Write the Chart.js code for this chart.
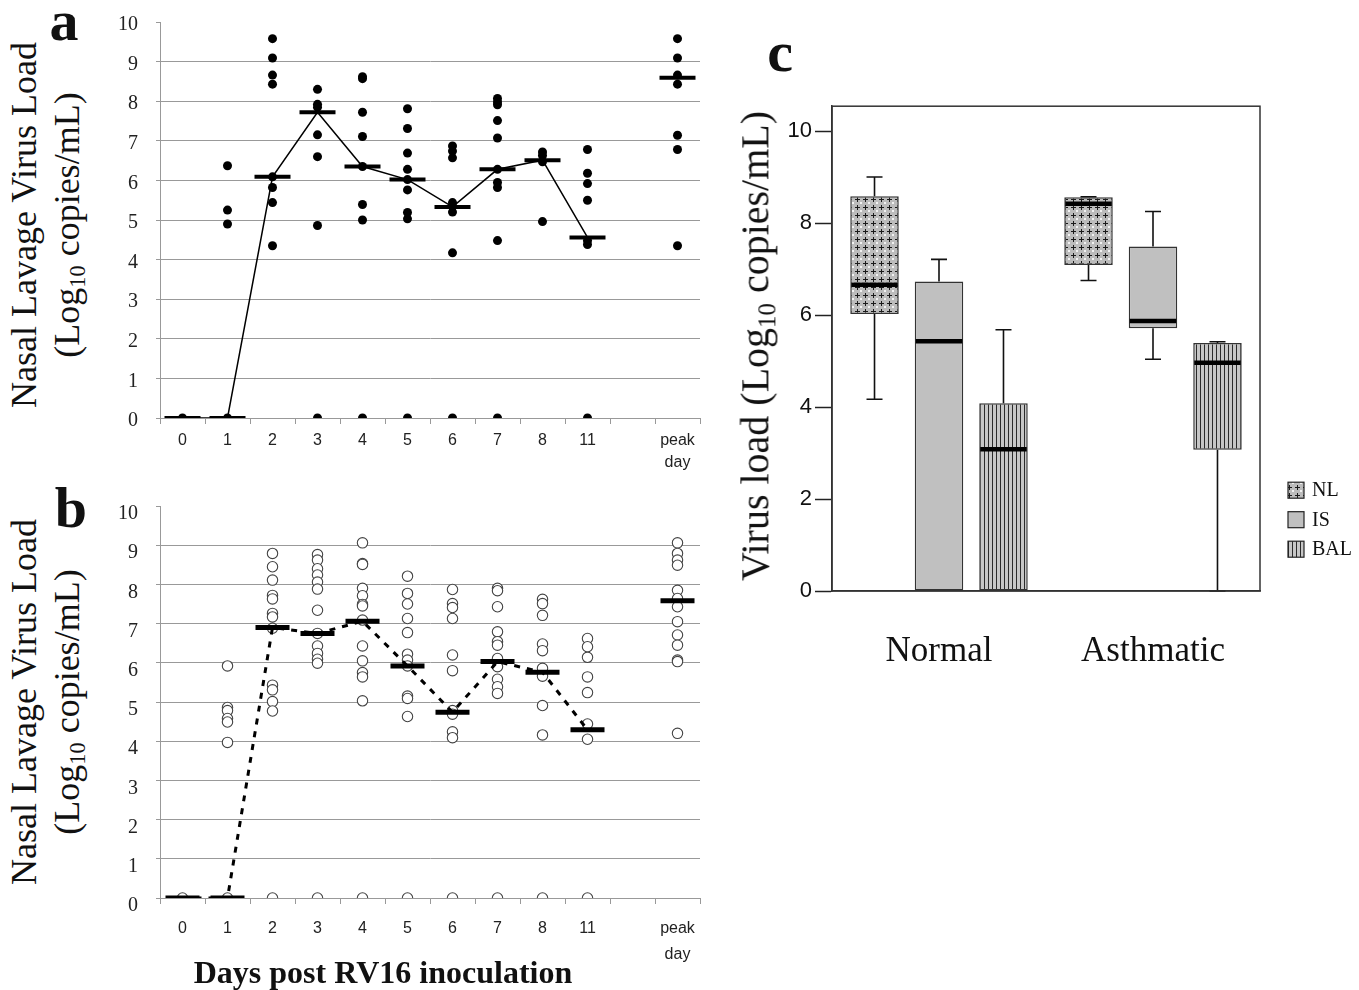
<!DOCTYPE html>
<html>
<head>
<meta charset="utf-8">
<script src="https://cdn.jsdelivr.net/npm/chart.js@4.4.1/dist/chart.umd.min.js"></script>
<style>
  body { margin: 0; width: 1359px; height: 990px; background: #fff; position: relative; overflow: hidden; font-family: 'Liberation Serif', serif; color: #111; }
  .pane { position: absolute; }
  .rot { position: absolute; transform: translate(-50%, -50%) rotate(-90deg); white-space: nowrap; text-align: center; }
  .mid { position: absolute; transform: translate(-50%, -50%); white-space: nowrap; line-height: 1; }
  .letter { font-weight: bold; font-size: 58px; }
  .sub { font-size: 0.62em; vertical-align: -0.3em; }
</style>
</head>
<body>

<div class="pane" style="left:100px;top:10px;width:610px;height:470px"><canvas id="chartA"></canvas></div>
<div class="pane" style="left:100px;top:494px;width:610px;height:470px"><canvas id="chartB"></canvas></div>
<div class="pane" style="left:740px;top:90px;width:619px;height:580px"><canvas id="chartC"></canvas></div>

<div class="mid letter" style="left:64px;top:21px">a</div>
<div class="mid letter" style="left:71px;top:508px">b</div>
<div class="mid letter" style="left:780px;top:52px">c</div>

<div class="rot" style="left:51px;top:225px;font-size:36px;line-height:43px">Nasal Lavage Virus Load<br>(Log<span class="sub">10</span> copies/mL)</div>
<div class="rot" style="left:51px;top:702px;font-size:36px;line-height:43px">Nasal Lavage Virus Load<br>(Log<span class="sub">10</span> copies/mL)</div>
<div class="rot" style="left:758px;top:346px;font-size:40px;line-height:1">Virus load (Log<span class="sub">10</span> copies/mL)</div>
<div class="mid" style="left:383px;top:972px;font-size:32px;font-weight:bold">Days post RV16 inoculation</div>

<script>
const dayLabels = ['0', '1', '2', '3', '4', '5', '6', '7', '8', '11', '', 'peak day'];

// panel a: individual subjects per day, and the day medians
const loadsA = [
  [0],
  [6.37, 5.25, 4.9, 0],
  [9.58, 9.09, 8.66, 8.43, 6.09, 5.82, 5.44, 4.35],
  [8.3, 7.92, 7.85, 7.15, 6.6, 4.86, 0],
  [8.62, 8.57, 7.72, 7.11, 6.35, 5.39, 5.0, 0],
  [7.81, 7.31, 6.69, 6.28, 6.02, 5.76, 5.19, 5.03, 0],
  [6.87, 6.74, 6.57, 5.44, 5.34, 5.2, 4.17, 0],
  [8.07, 7.98, 7.91, 7.51, 7.07, 6.28, 5.95, 5.82, 4.48, 0],
  [6.72, 6.63, 6.47, 4.96],
  [6.78, 6.18, 5.92, 5.5, 4.48, 4.38, 0],
  [],
  [9.58, 9.09, 8.66, 8.43, 7.14, 6.78, 4.35]
];
const mediansA = [0, 0, 6.09, 7.72, 6.35, 6.02, 5.33, 6.28, 6.51, 4.56, null, 8.59];

// panel b
const loadsB = [
  [0],
  [5.92, 4.86, 4.78, 4.58, 4.49, 3.97, 0],
  [8.79, 8.45, 8.11, 7.72, 7.63, 7.26, 7.17, 6.88, 5.43, 5.31, 5.01, 4.77, 0],
  [8.76, 8.62, 8.4, 8.24, 8.06, 7.88, 7.34, 6.75, 6.43, 6.24, 6.09, 5.99, 0],
  [9.06, 8.53, 8.51, 7.9, 7.71, 7.49, 7.45, 7.09, 6.43, 6.05, 5.75, 5.64, 5.03, 0],
  [8.21, 7.77, 7.5, 7.13, 6.77, 6.22, 6.07, 5.92, 5.15, 5.09, 4.63, 0],
  [7.87, 7.51, 7.41, 7.13, 6.2, 5.8, 4.78, 4.69, 4.24, 4.09, 0],
  [7.9, 7.84, 7.43, 6.79, 6.54, 6.45, 6.11, 5.9, 5.58, 5.39, 5.22, 0],
  [7.62, 7.51, 7.21, 6.48, 6.31, 5.86, 5.66, 4.91, 4.16, 0],
  [6.62, 6.41, 6.14, 5.64, 5.24, 4.44, 4.05, 0],
  [],
  [9.06, 8.79, 8.62, 8.49, 7.85, 7.64, 7.43, 7.05, 6.71, 6.45, 6.07, 6.03, 4.2]
];
const mediansB = [0, 0, 6.9, 6.75, 7.06, 5.92, 4.74, 6.03, 5.76, 4.29, null, 7.58];

// panel c: [min, q1, median, q3, max] for Normal, Asthmatic
const groups = ['Normal', 'Asthmatic'];
const boxNL = [[4.17, 6.02, 6.66, 8.58, 9.0], [6.75, 7.09, 8.42, 8.56, 8.57]];
const boxIS = [[0, 0, 5.43, 6.73, 7.21], [5.04, 5.71, 5.87, 7.49, 8.25]];
const boxBAL = [[0, 0, 3.08, 4.08, 5.68], [0, 3.07, 4.96, 5.39, 5.42]];

Chart.defaults.animation = false;
Chart.defaults.plugins.legend.display = false;
Chart.defaults.plugins.tooltip.enabled = false;

function toPoints(loads) {
  var pts = [];
  loads.forEach(function (vals, i) {
    vals.forEach(function (v) { pts.push({ x: dayLabels[i], y: v }); });
  });
  return pts;
}

function dayChart(id, loads, medians, s) {
  return new Chart(document.getElementById(id), {
    type: 'line',
    data: {
      labels: dayLabels,
      datasets: [{
        label: 'median',
        data: medians,
        order: 0,
        borderColor: '#000',
        borderWidth: s.lineWidth,
        borderDash: s.dash,
        spanGaps: false,
        tension: 0,
        pointStyle: 'line',
        pointRadius: s.barHalf,
        pointBorderWidth: s.barThick,
        pointBorderColor: '#000'
      }, {
        label: 'subjects',
        data: toPoints(loads),
        order: 1,
        showLine: false,
        pointStyle: 'circle',
        pointRadius: s.dotR,
        pointBackgroundColor: s.dotFill,
        pointBorderColor: s.dotEdge,
        pointBorderWidth: s.dotEdgeW
      }]
    },
    options: {
      responsive: true,
      maintainAspectRatio: false,
      layout: { autoPadding: false, padding: { top: 12, right: 10, left: 0, bottom: 0 } },
      scales: {
        x: {
          offset: true,
          grid: { offset: true, drawOnChartArea: false, tickLength: 6, color: '#999' },
          border: { color: '#999' },
          ticks: {
            autoSkip: false, maxRotation: 0, padding: s.xPad, color: '#222',
            font: { family: 'Liberation Sans', size: 16, lineHeight: s.xLine },
            callback: function (v) {
              var l = this.getLabelForValue(v);
              return l === 'peak day' ? ['peak', 'day'] : l;
            }
          },
          afterFit: function (sc) { sc.height = s.xHeight; }
        },
        y: {
          min: 0, max: 10,
          grid: {
            color: function (c) { return c.tick && c.tick.value === 10 ? 'rgba(0,0,0,0)' : '#999'; },
            tickColor: '#999', tickLength: 4
          },
          border: { color: '#999' },
          ticks: {
            stepSize: 1, padding: 18, color: '#222', labelOffset: s.yOff,
            font: { family: 'Liberation Serif', size: 20 }
          },
          afterFit: function (sc) { sc.width = 60; sc.paddingTop = 10; sc.paddingBottom = 0; }
        }
      }
    }
  });
}

dayChart('chartA', loadsA, mediansA, {
  lineWidth: 1.5, dash: [], barHalf: 18, barThick: 4,
  dotR: 4.5, dotFill: '#000', dotEdge: '#000', dotEdgeW: 0,
  xPad: 6, xLine: 1.375, xHeight: 62, yOff: 3
});
dayChart('chartB', loadsB, mediansB, {
  lineWidth: 3, dash: [6, 7], barHalf: 17, barThick: 5,
  dotR: 5.2, dotFill: '#fff', dotEdge: '#444', dotEdgeW: 1.1,
  xPad: 12, xLine: 1.6, xHeight: 66, yOff: 8
});

// fill patterns for panel c
function pattern(w, h, paint) {
  var c = document.createElement('canvas');
  c.width = w; c.height = h;
  var g = c.getContext('2d');
  paint(g);
  return g.createPattern(c, 'repeat');
}
var nlFill = pattern(8, 8, function (g) {
  g.fillStyle = '#bcbcbc'; g.fillRect(0, 0, 8, 8);
  g.fillStyle = '#f2f2f2'; g.fillRect(0, 0, 2, 2);
  g.fillStyle = '#1a1a1a'; g.fillRect(3, 5, 5, 1); g.fillRect(5, 3, 1, 5);
});
var balFill = pattern(4, 4, function (g) {
  g.fillStyle = '#c6c6c6'; g.fillRect(0, 0, 4, 4);
  g.fillStyle = '#2a2a2a'; g.fillRect(0, 0, 1, 4);
});

var boxPlot = {
  id: 'boxPlot',
  afterDatasetsDraw: function (chart) {
    var ctx = chart.ctx, y = chart.scales.y;
    ctx.save();
    chart.data.datasets.forEach(function (ds, d) {
      chart.getDatasetMeta(d).data.forEach(function (el, j) {
        var st = ds.stats[j], x = el.x, half = el.width / 2;
        ctx.strokeStyle = '#111';
        ctx.lineWidth = 1.6;
        ctx.beginPath();
        if (st[4] > st[3]) {
          ctx.moveTo(x, y.getPixelForValue(st[3])); ctx.lineTo(x, y.getPixelForValue(st[4]));
          ctx.moveTo(x - 8, y.getPixelForValue(st[4])); ctx.lineTo(x + 8, y.getPixelForValue(st[4]));
        }
        if (st[0] < st[1]) {
          ctx.moveTo(x, y.getPixelForValue(st[1])); ctx.lineTo(x, y.getPixelForValue(st[0]));
          ctx.moveTo(x - 8, y.getPixelForValue(st[0])); ctx.lineTo(x + 8, y.getPixelForValue(st[0]));
        }
        ctx.stroke();
        ctx.strokeStyle = '#000';
        ctx.lineWidth = 4.5;
        ctx.beginPath();
        ctx.moveTo(x - half + 1, y.getPixelForValue(st[2]));
        ctx.lineTo(x + half - 1, y.getPixelForValue(st[2]));
        ctx.stroke();
      });
    });
    ctx.restore();
  },
  afterDraw: function (chart) {
    var ctx = chart.ctx, a = chart.chartArea;
    ctx.save();
    ctx.strokeStyle = '#333';
    ctx.lineWidth = 1.5;
    ctx.strokeRect(a.left, a.top, a.right - a.left, a.bottom - a.top);
    // legend
    ctx.font = '20px "Liberation Serif"';
    ctx.textBaseline = 'middle';
    chart.data.datasets.forEach(function (ds, i) {
      var lx = a.right + 28, ly = a.top + 384 + i * 29.5;
      ctx.fillStyle = ds.backgroundColor;
      ctx.fillRect(lx, ly - 8, 16, 16);
      ctx.lineWidth = 1.2;
      ctx.strokeStyle = '#222';
      ctx.strokeRect(lx, ly - 8, 16, 16);
      ctx.fillStyle = '#111';
      ctx.fillText(ds.label, lx + 24, ly + 1);
    });
    ctx.restore();
  }
};

function boxSet(label, stats, fill) {
  return {
    label: label,
    data: stats.map(function (b) { return [b[1], b[3]]; }),
    stats: stats,
    backgroundColor: fill,
    borderColor: '#333',
    borderWidth: 1.5,
    borderSkipped: false,
    categoryPercentage: 0.904,
    barPercentage: 0.752
  };
}

new Chart(document.getElementById('chartC'), {
  type: 'bar',
  data: {
    labels: groups,
    datasets: [boxSet('NL', boxNL, nlFill), boxSet('IS', boxIS, '#c0c0c0'), boxSet('BAL', boxBAL, balFill)]
  },
  options: {
    responsive: true,
    maintainAspectRatio: false,
    layout: { padding: { top: 14, right: 99, left: 0, bottom: 0 } },
    scales: {
      x: {
        grid: { display: false, drawTicks: false },
        border: { color: '#333', width: 1.5 },
        ticks: { padding: 40, color: '#111', font: { family: 'Liberation Serif', size: 35 } },
        afterFit: function (sc) { sc.height = 79; }
      },
      y: {
        min: 0, max: 10.54,
        grid: { drawOnChartArea: false, tickLength: 17, tickColor: '#222', tickWidth: 1.5 },
        border: { color: '#333', width: 1.5 },
        ticks: { stepSize: 2, includeBounds: false, padding: 3, color: '#111', font: { family: 'Liberation Sans', size: 22 } },
        afterFit: function (sc) { sc.width = 92; }
      }
    }
  },
  plugins: [boxPlot]
});
</script>
</body>
</html>
